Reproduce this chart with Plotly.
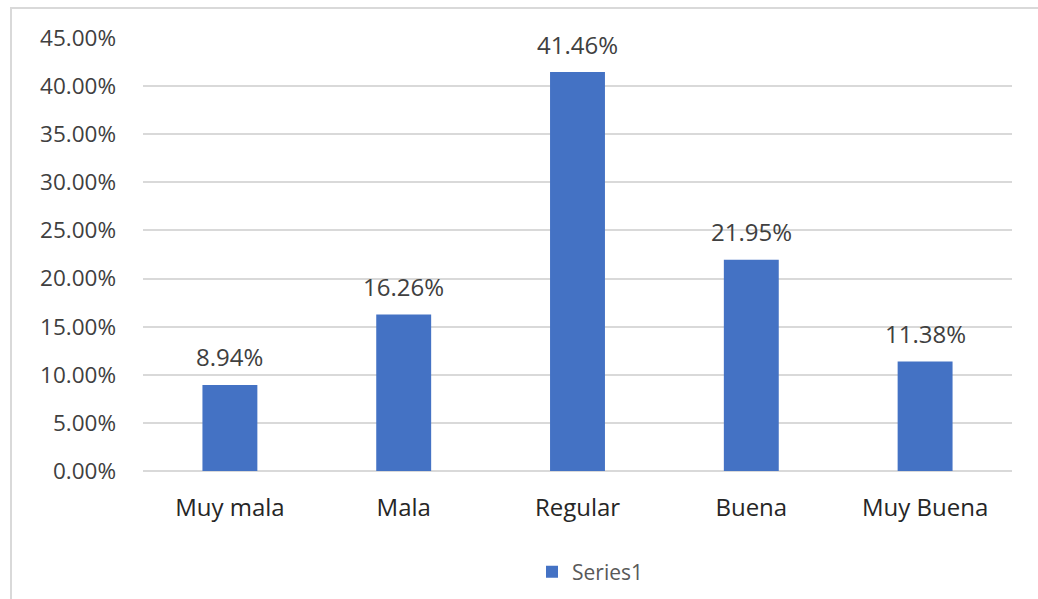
import plotly.graph_objects as go

# Survey response distribution
categories = ["Muy mala", "Mala", "Regular", "Buena", "Muy Buena"]
shares = [8.94, 16.26, 41.46, 21.95, 11.38]
series_name = "Series1"
y_ticks = [0, 5, 10, 15, 20, 25, 30, 35, 40, 45]
y_tick_labels = [f"{v:.2f}%" for v in y_ticks]

W, H = 1038, 599
L, R, T, B = 143, 26, 38, 128
plot_w = W - L - R
plot_h = H - T - B

text_font = "Open Sans, Noto Sans, sans-serif"
bar_color = "#4472C4"
grid_color = "#D9D9D9"

fig = go.Figure()
fig.add_trace(go.Bar(
    x=categories,
    y=shares,
    name=series_name,
    marker=dict(color=bar_color, line=dict(width=0)),
    showlegend=True,
))

# value labels above each bar
for cat, val in zip(categories, shares):
    fig.add_annotation(
        x=cat, y=val, text=f"{val:.2f}%",
        showarrow=False, yanchor="middle", yshift=28,
        font=dict(family=text_font, size=24, color="#404040"),
    )

# chart-area frame
def px_x(px):
    return (px - L) / plot_w

def px_y(py):
    return (H - B - py) / plot_h

fig.add_shape(
    type="rect", xref="paper", yref="paper",
    x0=px_x(11), x1=px_x(1050), y0=px_y(610), y1=px_y(8),
    line=dict(color="#D9D9D9", width=2), fillcolor="rgba(0,0,0,0)",
    layer="below",
)

fig.update_layout(
    width=W, height=H,
    margin=dict(l=L, r=R, t=T, b=B, autoexpand=False),
    paper_bgcolor="white", plot_bgcolor="white",
    bargap=0.684,
    font=dict(family=text_font, size=21, color="#404040"),
    legend=dict(
        orientation="h", x=px_x(590), xanchor="center",
        y=px_y(572), yanchor="middle",
        font=dict(family=text_font, size=21, color="#595959"),
        itemwidth=30,
    ),
)

fig.update_xaxes(
    showgrid=False, showline=False, ticks="",
    ticklabelstandoff=20,
    tickfont=dict(family=text_font, size=24, color="#262626"),
)
fig.update_yaxes(
    range=[0, 45], tickvals=y_ticks, ticktext=y_tick_labels,
    showgrid=True, gridcolor=grid_color, gridwidth=1.5,
    zeroline=True, zerolinecolor=grid_color, zerolinewidth=1.5,
    showline=False, ticks="",
    ticklabelstandoff=26,
    tickfont=dict(family=text_font, size=22.5, color="#404040"),
)

fig.write_html("out.html")
